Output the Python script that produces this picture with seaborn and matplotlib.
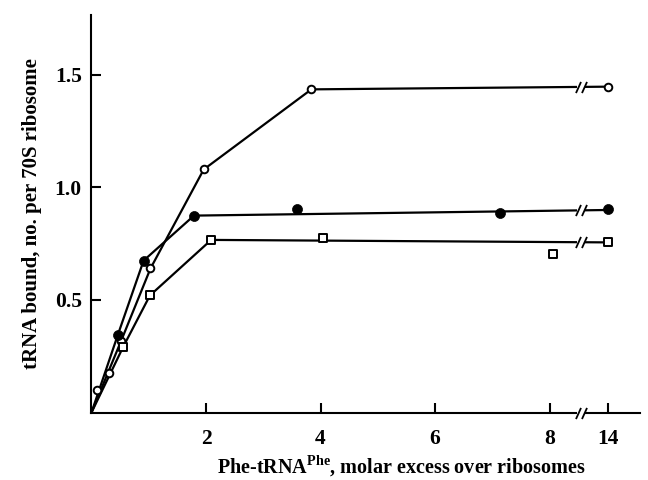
import numpy as np
import pandas as pd
import matplotlib
matplotlib.use("Agg")
import matplotlib.pyplot as plt
import seaborn as sns

# ---- data (molar excess, tRNA bound per 70S ribosome) ----
open_circle_x = [0.10, 0.30, 0.52, 1.03, 1.96, 3.84, 14]
open_circle_y = [0.10, 0.174, 0.32, 0.64, 1.08, 1.436, 1.448]
filled_circle_x = [0.46, 0.91, 1.79, 3.59, 7.14, 14]
filled_circle_y = [0.345, 0.675, 0.875, 0.903, 0.885, 0.903]
square_x = [0.55, 1.02, 2.09, 4.04, 8.06, 14]
square_y = [0.29, 0.52, 0.767, 0.774, 0.704, 0.756]

# drawn curves (hand-fitted lines)
open_line_x = [0, 0.52, 1.03, 1.96, 3.84, 14]
open_line_y = [0, 0.32, 0.64, 1.08, 1.436, 1.448]
filled_line_x = [0, 0.46, 0.91, 1.79, 14]
filled_line_y = [0, 0.345, 0.675, 0.875, 0.90]
square_line_x = [0, 0.55, 1.02, 2.09, 14]
square_line_y = [0, 0.29, 0.52, 0.767, 0.756]

x_ticks = [2, 4, 6, 8, 14]
y_ticks = [0.5, 1.0, 1.5]

BREAK_POS = 8.55   # position of the axis break
POS_14 = 9.02      # plotting position of x = 14


def xpos(v):
    v = np.asarray(v, dtype=float)
    return np.where(v > 10, POS_14 + (v - 14) * 0.05, v)


sns.set_theme(style="ticks")
plt.rcParams["font.family"] = ["Liberation Serif", "DejaVu Serif"]
plt.rcParams["mathtext.fontset"] = "custom"
plt.rcParams["mathtext.rm"] = "Liberation Serif"
plt.rcParams["mathtext.bf"] = "Liberation Serif:bold"
plt.rcParams["text.color"] = "black"
plt.rcParams["axes.labelcolor"] = "black"

fig = plt.figure(figsize=(6.48, 4.80), dpi=100)
ax = fig.add_axes([0.1412, 0.1406, 0.8465, 0.8284])

lw = 1.6
for lx, ly in [(open_line_x, open_line_y), (filled_line_x, filled_line_y),
               (square_line_x, square_line_y)]:
    d = pd.DataFrame({"x": xpos(lx), "y": ly})
    sns.lineplot(data=d, x="x", y="y", sort=False, color="black", lw=lw,
                 ax=ax, zorder=2)

# break marks on each line
slash = [(-0.45, -1.0), (0.45, 1.0)]
for ly in [open_line_y[-1] - 0.0005, 0.8985, 0.7565]:
    ax.plot([BREAK_POS - 0.07, BREAK_POS + 0.07], [ly, ly], color="white",
            lw=4, solid_capstyle="butt", zorder=3)
    ax.plot([BREAK_POS - 0.045, BREAK_POS + 0.045], [ly, ly], ls="none",
            marker=slash, ms=8, mew=1.3, mec="black", zorder=4)

d_open = pd.DataFrame({"x": xpos(open_circle_x), "y": open_circle_y})
d_fill = pd.DataFrame({"x": xpos(filled_circle_x), "y": filled_circle_y})
d_sq = pd.DataFrame({"x": xpos(square_x), "y": square_y})

sns.scatterplot(data=d_open, x="x", y="y", marker="o", s=30, facecolor="white",
                edgecolor="black", linewidth=1.4, ax=ax, zorder=5)
sns.scatterplot(data=d_fill, x="x", y="y", marker="o", s=52, color="black",
                edgecolor="black", linewidth=0.5, ax=ax, zorder=5)
sns.scatterplot(data=d_sq, x="x", y="y", marker="s", s=32, facecolor="white",
                edgecolor="black", linewidth=1.4, ax=ax, zorder=5)

ax.set_xlim(0, 9.58)
ax.set_ylim(0, 1.767)
ax.set_xticks(xpos(x_ticks))
ax.set_xticklabels([str(t) for t in x_ticks])
ax.set_yticks(y_ticks)
ax.set_yticklabels(["%.1f" % t for t in y_ticks])
sns.despine(ax=ax)
for s in ["left", "bottom"]:
    ax.spines[s].set_linewidth(1.5)
    ax.spines[s].set_color("black")
ax.tick_params(direction="in", length=7, width=1.5, colors="black",
               labelsize=15.5, labelcolor="black")
ax.tick_params(axis="x", pad=12)
ax.tick_params(axis="y", pad=7)
for lab in ax.get_xticklabels() + ax.get_yticklabels():
    lab.set_fontweight("bold")

# break on the x axis
ax.plot([BREAK_POS - 0.07, BREAK_POS + 0.07], [0, 0], color="white", lw=4,
        solid_capstyle="butt", zorder=6, clip_on=False,
        transform=ax.get_xaxis_transform())
ax.plot([BREAK_POS - 0.045, BREAK_POS + 0.045], [0, 0], ls="none",
        marker=slash, ms=8, mew=1.3, mec="black", zorder=7, clip_on=False,
        transform=ax.get_xaxis_transform())

ax.set_xlabel(r"Phe-tRNA$^{\mathbf{Phe}}$, molar excess over ribosomes",
              fontsize=14.5, fontweight="bold")
ax.xaxis.set_label_coords(0.565, -0.135, transform=ax.transAxes)
ax.xaxis.label.set_va("center")
ax.set_ylabel("tRNA bound, no. per 70S ribosome", fontsize=15,
              fontweight="bold")
ax.yaxis.set_label_coords(-0.108, 0.5, transform=ax.transAxes)
ax.yaxis.label.set_va("center")

fig.savefig("out.png", dpi=100)
